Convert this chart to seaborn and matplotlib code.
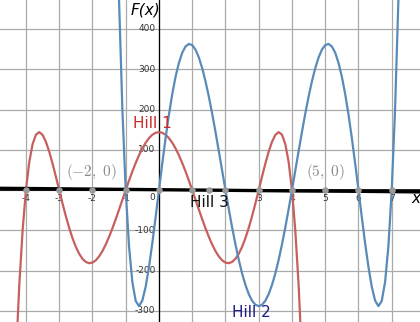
import matplotlib
matplotlib.use("Agg")
import matplotlib.pyplot as plt
import seaborn as sns
import pandas as pd

# ---- data ----
curve_x_red = [-4.4, -4.3, -4.2, -4.1, -4.0, -3.9, -3.8, -3.7, -3.6, -3.5, -3.4, -3.3, -3.2, -3.1, -3.0,
               -2.9, -2.8, -2.7, -2.6, -2.5, -2.4, -2.3, -2.2, -2.1, -2.0, -1.9, -1.8, -1.7, -1.6, -1.5,
               -1.4, -1.3, -1.2, -1.1, -1.0, -0.9, -0.8, -0.7, -0.6, -0.5, -0.4, -0.3, -0.2, -0.1, 0.0,
               0.1, 0.2, 0.3, 0.4, 0.5, 0.6, 0.7, 0.8, 0.9, 1.0, 1.1, 1.2, 1.3, 1.4, 1.5, 1.6, 1.7, 1.8,
               1.9, 2.0, 2.1, 2.2, 2.3, 2.4, 2.5, 2.6, 2.7, 2.8, 2.9, 3.0, 3.1, 3.2, 3.3, 3.4, 3.5, 3.6,
               3.7, 3.8, 3.9, 4.0, 4.1, 4.2, 4.3, 4.4]
red_y = [-639.1, -413.3, -235.8, -100.0, 0.0, 69.7, 114.1, 137.5, 144.0, 137.1, 120.0, 95.5, 66.0, 33.6, 0.0,
         -33.2, -64.7, -93.7, -119.2, -140.8, -157.9, -170.5, -178.3, -181.4, -180.0, -174.3, -164.6, -151.4,
         -135.0, -116.0, -94.9, -72.2, -48.4, -24.2, 0.0, 23.6, 46.2, 67.3, 86.5, 103.4, 117.6, 129.0, 137.3,
         142.3, 144.0,
         142.3, 137.3, 129.0, 117.6, 103.4, 86.5, 67.3, 46.2, 23.6, 0.0, -24.2, -48.4, -72.2, -94.9, -116.0,
         -135.0, -151.4, -164.6, -174.3, -180.0, -181.4, -178.3, -170.5, -157.9, -140.8, -119.2, -93.7, -64.7,
         -33.2, 0.0, 33.6, 66.0, 95.5, 120.0, 137.1, 144.0, 137.5, 114.1, 69.7, 0.0, -100.0, -235.8, -413.3,
         -639.1]

curve_x_blue = [-1.4, -1.3, -1.2, -1.1, -1.0, -0.9, -0.8, -0.7, -0.6, -0.5, -0.4, -0.3, -0.2, -0.1, 0.0,
                0.1, 0.2, 0.3, 0.4, 0.5, 0.6, 0.7, 0.8, 0.9, 1.0, 1.1, 1.2, 1.3, 1.4, 1.5, 1.6, 1.7, 1.8,
                1.9, 2.0, 2.1, 2.2, 2.3, 2.4, 2.5, 2.6, 2.7, 2.8, 2.9, 3.0, 3.1, 3.2, 3.3, 3.4, 3.5, 3.6,
                3.7, 3.8, 3.9, 4.0, 4.1, 4.2, 4.3, 4.4, 4.5, 4.6, 4.7, 4.8, 4.9, 5.0, 5.1, 5.2, 5.3, 5.4,
                5.5, 5.6, 5.7, 5.8, 5.9, 6.0, 6.1, 6.2, 6.3, 6.4, 6.5, 6.6, 6.7, 6.8, 6.9, 7.0, 7.1, 7.2,
                7.3, 7.4]
blue_y = [1278.2, 826.6, 471.6, 200.0, 0.0, -139.4, -228.2, -275.0, -288.0, -274.2, -240.0, -191.0, -132.0,
          -67.2, 0.0, 66.4, 129.4, 187.4, 238.4, 281.6, 315.8, 341.0, 356.6, 362.8, 360.0, 348.6, 329.2, 302.8,
          270.0, 232.0, 189.8, 144.4, 96.8, 48.4, 0.0, -47.2, -92.4, -134.6, -173.0, -206.8, -235.2, -258.0,
          -274.6, -284.6, -288.0,
          -284.6, -274.6, -258.0, -235.2, -206.8, -173.0, -134.6, -92.4, -47.2, 0.0, 48.4, 96.8, 144.4, 189.8,
          232.0, 270.0, 302.8, 329.2, 348.6, 360.0, 362.8, 356.6, 341.0, 315.8, 281.6, 238.4, 187.4, 129.4,
          66.4, 0.0, -67.2, -132.0, -191.0, -240.0, -274.2, -288.0, -275.0, -228.2, -139.4, 0.0, 200.0, 471.6,
          826.6, 1278.2]

hill3_x = [-4.8, -4.0, -2.0, 0.0, 2.0, 4.0, 6.0, 7.9]
hill3_y = [4.5, 4.0, 2.5, 1.0, -0.5, -2.0, -3.0, -4.5]

dot_x = [-4, -3, -2, -1, 0, 1, 1.5, 2, 3, 4, 5, 6, 7]
dot_y = [0] * len(dot_x)

xtick_vals = [-4, -3, -2, -1, 3, 4, 5, 6, 7]
ytick_vals = [400, 300, 200, 100, -100, -200, -300]
grid_x = list(range(-4, 8))
grid_y = list(range(-300, 401, 100))

point_labels = [r"$(-2,\ 0)$", r"$(5,\ 0)$"]
point_label_x = [-2.02, 5.02]
point_label_y = [45, 45]

curve_labels = ["Hill 1", "Hill 2", "Hill 3"]
curve_label_x = [-0.21, 2.77, 1.53]
curve_label_y = [166, -305, -30]
curve_label_colors = ["#cc2a2a", "#1c1c8a", "#111111"]

# ---- drawing ----
sns.set_style("white")
plt.rcParams["font.family"] = ["DejaVu Sans"]
plt.rcParams["mathtext.fontset"] = "cm"

fig = plt.figure(figsize=(4.2, 3.22), dpi=100)
ax = fig.add_axes([0, 0, 1, 1])

ax.set_xlim(-4.78, 7.85)
ax.set_ylim(-327.4, 471.9)
ax.set_xticks(grid_x)
ax.set_yticks(grid_y)
ax.grid(True, color="#aaaaaa", lw=0.9, zorder=0)
ax.tick_params(length=0, labelbottom=False, labelleft=False)
for s in ax.spines.values():
    s.set_visible(False)
ax.axhline(0, color="black", lw=1.2, zorder=1)
ax.axvline(0, color="black", lw=0.9, zorder=1)

# tick labels (Desmos style, next to the axes)
for v in xtick_vals:
    ax.annotate(str(v), (v, 0), xytext=(0, -6.3), textcoords="offset points",
                ha="center", va="center", fontsize=6.5, color="#333333", zorder=2)
ax.annotate("0", (0, 0), xytext=(-4.5, -5.5), textcoords="offset points",
            ha="center", va="center", fontsize=6.5, color="#333333", zorder=2)
for v in ytick_vals:
    ax.annotate(str(v), (0, v), xytext=(-2.5, 0), textcoords="offset points",
                ha="right", va="center", fontsize=6.5, color="#333333", zorder=2)

df_red = pd.DataFrame({"x": curve_x_red, "y": red_y})
df_blue = pd.DataFrame({"x": curve_x_blue, "y": blue_y})
df_h3 = pd.DataFrame({"x": hill3_x, "y": hill3_y})

sns.lineplot(data=df_red, x="x", y="y", sort=False, estimator=None, color="#c85f5f", lw=1.6, ax=ax, zorder=3)
sns.lineplot(data=df_blue, x="x", y="y", sort=False, estimator=None, color="#5a8ab8", lw=1.6, ax=ax, zorder=4)
sns.lineplot(data=df_h3, x="x", y="y", sort=False, estimator=None, color="black", lw=2.4, ax=ax, zorder=5)
sns.scatterplot(x=dot_x, y=dot_y, color="#9a9a9a", s=22, linewidth=0, ax=ax, zorder=6)

for t, x, y in zip(point_labels, point_label_x, point_label_y):
    ax.text(x, y, t, ha="center", va="center", fontsize=11, color="#8a8a8a", zorder=7)
for t, x, y, c in zip(curve_labels, curve_label_x, curve_label_y, curve_label_colors):
    ax.text(x, y, t, ha="center", va="center", fontsize=11, color=c, zorder=7)

ax.text(-0.42, 447, "F(x)", ha="center", va="center", fontsize=11, style="italic", color="black", zorder=7)
ax.text(7.73, -20, "x", ha="center", va="center", fontsize=11, style="italic", color="black", zorder=7)

ax.set_xlabel("")
ax.set_ylabel("")
fig.savefig("out.png", dpi=100)
